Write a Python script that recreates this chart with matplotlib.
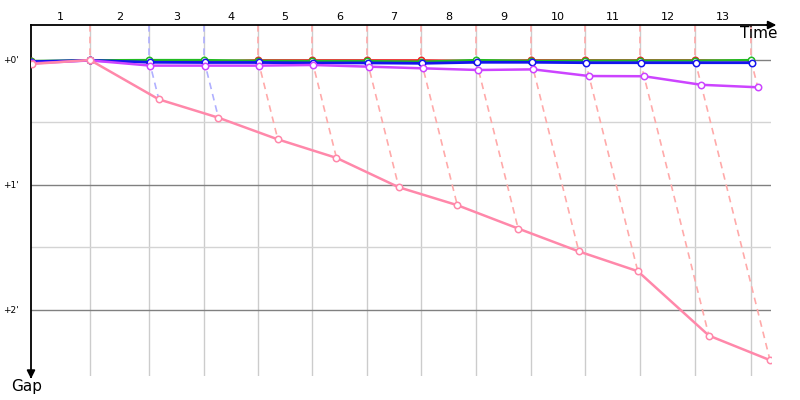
import numpy as np
import matplotlib
matplotlib.use("Agg")
import matplotlib.pyplot as plt
from matplotlib.transforms import blended_transform_factory

# Leader lap times (s), laps 1..13
leader_lap_times = [113.3, 113.3, 105.6, 103.7, 103.7, 105.6, 103.7, 105.6, 105.6, 103.7, 105.6, 105.6, 107.5]
lap_labels = [str(i) for i in range(1, 14)]

# Gap to leader (s) per lap, starting at lap 0
gap_pink = [1.9, 0.0, 18.9, 27.7, 38.1, 47.0, 61.1, 69.7, 80.9, 91.9, 101.4, 132.3, 144.1]
gap_purple = [1.6, 0.2, 2.7, 2.7, 2.7, 2.4, 3.2, 4.0, 4.8, 4.5, 7.7, 7.8, 11.9, 13.1]
gap_blue = [0.8, 0.2, 1.1, 1.2, 1.2, 1.4, 1.4, 1.6, 1.1, 1.1, 1.3, 1.3, 1.3, 1.3]
gap_green = [0.5, 0.1, 0.0, 0.0, 0.4, 0.5, 0.5, 0.8, 0.0, 0.4, 0.3, 0.3, 0.3, 0.0]
gap_red = [0.6, 0.2, 0.5, 0.5, 0.0, 0.0, 0.0, 0.0, 0.3, 0.0, 0.0, 0.0, 0.0, 0.3]

# drawing order: first drawn is lowest
series = [
    (gap_red, "#ee2222", 1.2),
    (gap_green, "#22bb22", 1.6),
    (gap_blue, "#1414ee", 2.0),
    (gap_purple, "#cc44ff", 1.8),
    (gap_pink, "#ff88aa", 1.8),
]
lapline_colors = ["#ffaaaa", "#b0b0ff", "#b0b0ff"] + ["#ffaaaa"] * 10

y_ticks = [0, 60, 120]
y_tick_labels = ["+0'", "+1'", "+2'"]
y_minor = [30, 90]

cum = np.concatenate([[0.0], np.cumsum(leader_lap_times)])

fig = plt.figure(figsize=(8, 4), dpi=100)
ax = fig.add_axes([31/800, 1-376/400, 740/800, 351/400])
ax.set_xlim(0, 1421)
ax.set_ylim(151.7, -16.8)

# grid
for t in cum[1:]:
    ax.axvline(t, color="#cccccc", lw=1, zorder=1)
for y in y_minor:
    ax.axhline(y, color="#d4d4d4", lw=1, zorder=1)
for y in y_ticks:
    ax.axhline(y, color="#808080", lw=1, zorder=1)

# lap lines (dashed)
ytop = ax.get_ylim()[1]
for k in range(1, len(cum)):
    pts = []
    for g, c, w in series:
        if k < len(g):
            pts.append((cum[k] + g[k], g[k]))
    pts.sort(key=lambda p: p[1])
    xs = [cum[k]] + [p[0] for p in pts]
    ys = [ytop] + [p[1] for p in pts]
    ax.plot(xs, ys, color=lapline_colors[k-1], lw=1.2, ls=(0, (4, 3)), zorder=2)

# driver lines
for i, (g, c, w) in enumerate(series):
    n = len(g)
    xs = cum[:n] + np.array(g)
    ax.plot(xs, g, color=c, lw=w, zorder=3 + i * 0.1, marker="o", markersize=4.6,
            markerfacecolor="white", markeredgecolor=c, markeredgewidth=1.1)

# spines
for s in ["right", "bottom"]:
    ax.spines[s].set_visible(False)
for s in ["top", "left"]:
    ax.spines[s].set_color("black")
    ax.spines[s].set_linewidth(1.3)

ax.set_xticks([])
ax.set_yticks(y_ticks)
ax.set_yticklabels(y_tick_labels, fontsize=6.5)
ax.tick_params(axis="y", length=0, pad=9)

# arrows
ax.annotate("", xy=(1.011, 1), xytext=(0.99, 1), xycoords="axes fraction",
            arrowprops=dict(arrowstyle="-|>", color="black", lw=1.3, mutation_scale=12))
ax.annotate("", xy=(0, -0.016), xytext=(0, 0.01), xycoords="axes fraction",
            arrowprops=dict(arrowstyle="-|>", color="black", lw=1.3, mutation_scale=12))

# lap labels
trans = blended_transform_factory(ax.transData, ax.transAxes)
for k in range(1, len(cum)):
    ax.text((cum[k-1] + cum[k]) / 2, 1.023, lap_labels[k-1], transform=trans,
            ha="center", va="center", fontsize=8, clip_on=False)

fig.text(777/800, 1-34/400, "Time", ha="right", va="center", fontsize=11)
fig.text(11/800, 1-386/400, "Gap", ha="left", va="center", fontsize=11)

fig.savefig("out.png", dpi=100)
